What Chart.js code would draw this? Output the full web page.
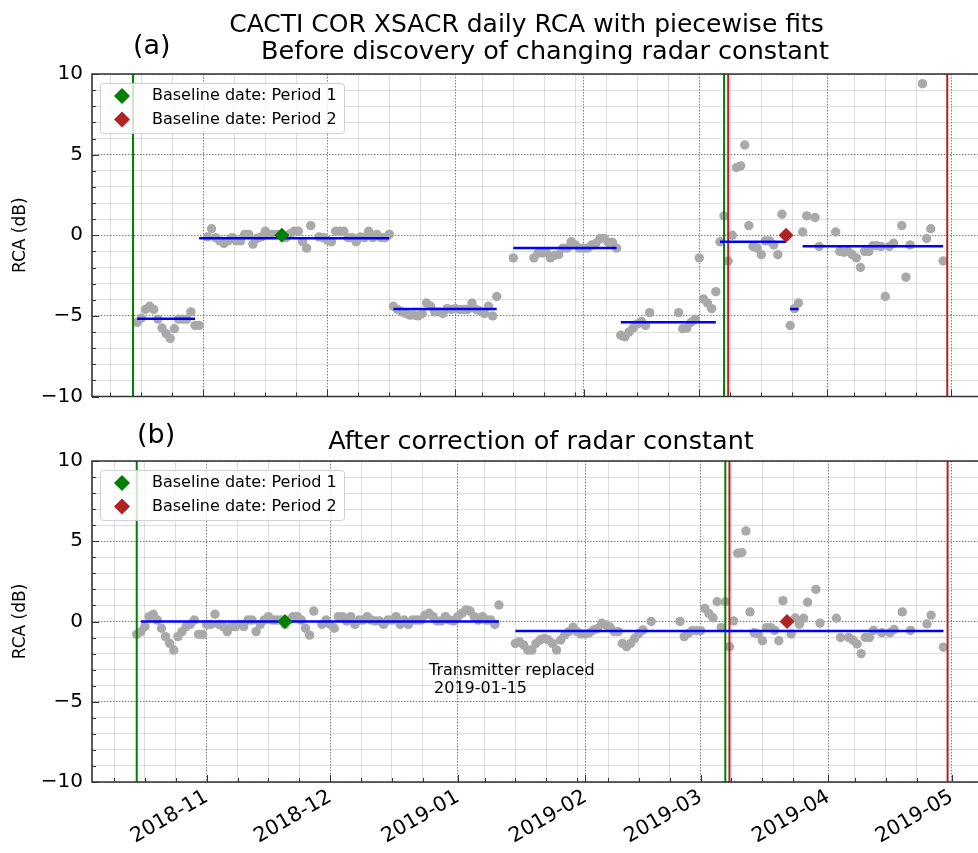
<!DOCTYPE html>
<html>
<head>
<meta charset="utf-8">
<title>CACTI COR XSACR daily RCA</title>
<script src="https://cdn.jsdelivr.net/npm/chart.js@4.4.0/dist/chart.umd.min.js"></script>
<style>
  html, body { margin: 0; padding: 0; background: #fff; }
  #wrap { position: relative; width: 978px; height: 853px; overflow: hidden; }
  #chartA { position: absolute; left: 0; top: 0; }
  #chartB { position: absolute; left: 0; top: 410px; }
</style>
</head>
<body>
<div id="wrap">
  <canvas id="chartA" width="978" height="410"></canvas>
  <canvas id="chartB" width="978" height="443"></canvas>
</div>
<script>
// ---- data ---------------------------------------------------------------
const monthLabels = ['2018-11', '2018-12', '2019-01', '2019-02', '2019-03', '2019-04', '2019-05'];

// (a) before discovery of changing radar constant
const datesA = [
  '2018-10-16','2018-10-17','2018-10-18','2018-10-19','2018-10-20','2018-10-21','2018-10-22','2018-10-23','2018-10-24','2018-10-25','2018-10-26','2018-10-27','2018-10-28','2018-10-29','2018-10-30','2018-10-31',
  '2018-11-02','2018-11-03','2018-11-04','2018-11-05','2018-11-06','2018-11-07','2018-11-08','2018-11-09','2018-11-10','2018-11-11','2018-11-12','2018-11-13','2018-11-14','2018-11-15','2018-11-16','2018-11-17','2018-11-18','2018-11-19','2018-11-20','2018-11-21','2018-11-22','2018-11-23','2018-11-24','2018-11-25','2018-11-26','2018-11-27','2018-11-29','2018-11-30',
  '2018-12-01','2018-12-02','2018-12-03','2018-12-04','2018-12-05','2018-12-06','2018-12-07','2018-12-08','2018-12-09','2018-12-10','2018-12-11','2018-12-12','2018-12-13','2018-12-14','2018-12-15','2018-12-16',
  '2018-12-17','2018-12-18','2018-12-19','2018-12-20','2018-12-21','2018-12-22','2018-12-23','2018-12-24','2018-12-25','2018-12-26','2018-12-27','2018-12-28','2018-12-29','2018-12-30','2018-12-31',
  '2019-01-01','2019-01-02','2019-01-03','2019-01-04','2019-01-05','2019-01-06','2019-01-07','2019-01-08','2019-01-09','2019-01-10','2019-01-11',
  '2019-01-15','2019-01-20','2019-01-21','2019-01-22','2019-01-23','2019-01-24','2019-01-25','2019-01-26','2019-01-27','2019-01-28','2019-01-29','2019-01-30','2019-01-31',
  '2019-02-01','2019-02-02','2019-02-03','2019-02-04','2019-02-05','2019-02-06','2019-02-07','2019-02-08','2019-02-09',
  '2019-02-10','2019-02-11','2019-02-12','2019-02-13','2019-02-14','2019-02-15','2019-02-16','2019-02-17',
  '2019-02-24','2019-02-25','2019-02-26','2019-02-27','2019-02-28',
  '2019-03-01','2019-03-02','2019-03-03','2019-03-04','2019-03-05','2019-03-06','2019-03-07','2019-03-08','2019-03-09','2019-03-10','2019-03-11','2019-03-12','2019-03-13','2019-03-14','2019-03-15','2019-03-16','2019-03-17','2019-03-18','2019-03-19','2019-03-20','2019-03-21','2019-03-22','2019-03-23','2019-03-24','2019-03-25','2019-03-26','2019-03-27','2019-03-29','2019-03-30',
  '2019-04-03','2019-04-04','2019-04-05','2019-04-06','2019-04-07','2019-04-08','2019-04-09','2019-04-10','2019-04-11','2019-04-12','2019-04-13','2019-04-14','2019-04-15','2019-04-16','2019-04-17',
  '2019-04-19','2019-04-20','2019-04-21','2019-04-24','2019-04-25','2019-04-26','2019-04-29'
];
const rcaA = [
  -5.4,-5.15,-4.6,-4.4,-4.6,-5.2,-5.75,-6.1,-6.4,-5.8,-5.2,-5.2,-5.2,-4.75,-5.6,-5.6,
  -0.1,0.4,-0.15,-0.35,-0.5,-0.35,-0.15,-0.35,-0.35,0.05,0.05,-0.55,-0.2,-0.1,0.25,0.05,0.05,0.05,0.05,-0.15,0.1,0.25,0.25,-0.4,-0.8,0.6,-0.1,-0.15,
  -0.3,-0.4,0.25,0.25,0.25,-0.15,-0.15,-0.4,-0.1,-0.15,0.25,-0.15,0.05,-0.15,-0.15,0.05,
  -4.4,-4.6,-4.75,-4.85,-4.95,-4.95,-5.0,-4.85,-4.2,-4.4,-4.75,-4.75,-4.85,-4.55,-4.6,
  -4.55,-4.6,-4.6,-4.6,-4.2,-4.6,-4.7,-4.85,-4.4,-5.0,-3.8,
  -1.4,-1.4,-1.1,-1.1,-1.05,-1.4,-1.25,-1.2,-0.8,-0.8,-0.4,-0.6,-0.8,
  -0.8,-0.8,-0.6,-0.5,-0.2,-0.2,-0.45,-0.45,-0.8,
  -6.2,-6.3,-6.0,-5.75,-5.5,-5.35,-5.6,-4.8,
  -4.8,-5.8,-5.75,-5.4,-5.2,
  -1.4,-3.95,-4.2,-4.55,-3.5,-0.4,1.2,-1.6,0.0,4.2,4.3,5.6,0.6,-0.7,-0.8,-1.2,-0.35,-0.35,-0.6,-1.2,1.3,0.0,-5.6,-4.55,-4.2,0.2,1.2,1.1,-0.7,
  0.2,-1.0,-1.05,-1.0,-1.2,-1.4,-2.0,-1.0,-1.0,-0.65,-0.65,-0.7,-3.8,-0.7,-0.5,
  0.6,-2.6,-0.6,9.4,-0.2,0.4,-1.6
];
const fitStartA = ['2018-10-16','2018-10-31','2018-12-17','2019-01-15','2019-02-10','2019-03-06','2019-03-23','2019-03-26'];
const fitEndA   = ['2018-10-30','2018-12-16','2019-01-11','2019-02-09','2019-03-05','2019-03-22','2019-03-25','2019-04-29'];
const fitRcaA   = [-5.18, -0.19, -4.58, -0.79, -5.4, -0.41, -4.58, -0.68];

// (b) after correction of radar constant
const datesB = [
  '2018-10-15','2018-10-16','2018-10-17','2018-10-18','2018-10-19','2018-10-20','2018-10-21','2018-10-22','2018-10-23','2018-10-24','2018-10-25','2018-10-26','2018-10-27','2018-10-28','2018-10-29','2018-10-30','2018-10-31',
  '2018-11-01','2018-11-02','2018-11-03','2018-11-04','2018-11-05','2018-11-06','2018-11-07','2018-11-08','2018-11-09','2018-11-10','2018-11-11','2018-11-12','2018-11-13','2018-11-14','2018-11-15','2018-11-16','2018-11-17','2018-11-18','2018-11-19','2018-11-20','2018-11-21','2018-11-22','2018-11-23','2018-11-24','2018-11-25','2018-11-26','2018-11-27','2018-11-29','2018-11-30',
  '2018-12-01','2018-12-02','2018-12-03','2018-12-04','2018-12-05','2018-12-06','2018-12-07','2018-12-08','2018-12-09','2018-12-10','2018-12-11','2018-12-12','2018-12-13','2018-12-14','2018-12-15','2018-12-16',
  '2018-12-17','2018-12-18','2018-12-19','2018-12-20','2018-12-21','2018-12-22','2018-12-23','2018-12-24','2018-12-25','2018-12-26','2018-12-27','2018-12-28','2018-12-29','2018-12-30','2018-12-31',
  '2019-01-01','2019-01-02','2019-01-03','2019-01-04','2019-01-05','2019-01-06','2019-01-07','2019-01-08','2019-01-09','2019-01-10','2019-01-11',
  '2019-01-15','2019-01-16','2019-01-17','2019-01-18','2019-01-19','2019-01-20','2019-01-21','2019-01-22','2019-01-23','2019-01-24','2019-01-25','2019-01-26','2019-01-27','2019-01-28','2019-01-29','2019-01-30','2019-01-31',
  '2019-02-01','2019-02-02','2019-02-03','2019-02-04','2019-02-05','2019-02-06','2019-02-07','2019-02-08','2019-02-09','2019-02-10','2019-02-11','2019-02-12','2019-02-13','2019-02-14','2019-02-15','2019-02-17',
  '2019-02-24','2019-02-25','2019-02-26','2019-02-27','2019-02-28',
  '2019-03-01','2019-03-02','2019-03-03','2019-03-04','2019-03-05','2019-03-06','2019-03-07','2019-03-08','2019-03-09','2019-03-10','2019-03-11','2019-03-12','2019-03-13','2019-03-14','2019-03-15','2019-03-16','2019-03-17','2019-03-18','2019-03-19','2019-03-20','2019-03-21','2019-03-22','2019-03-23','2019-03-24','2019-03-25','2019-03-26','2019-03-27','2019-03-29','2019-03-30',
  '2019-04-03','2019-04-04','2019-04-06','2019-04-07','2019-04-08','2019-04-09','2019-04-10','2019-04-11','2019-04-12','2019-04-14','2019-04-16','2019-04-17','2019-04-19','2019-04-21','2019-04-25','2019-04-26','2019-04-29'
];
const rcaB = [
  -0.8,-0.63,-0.32,0.3,0.45,0.09,-0.42,-0.94,-1.36,-1.78,-0.94,-0.63,-0.32,-0.18,0.09,-0.8,-0.8,
  -0.18,-0.18,0.45,-0.18,-0.32,-0.63,-0.32,-0.32,-0.18,-0.32,0.09,0.09,-0.63,-0.18,0.09,0.3,0.09,0.09,0.09,-0.18,0.09,0.3,0.3,0.09,-0.42,-0.85,0.65,-0.18,0.09,
  -0.18,-0.42,0.3,0.3,0.03,0.3,-0.18,0.09,0.09,0.3,0.09,0.03,0.03,-0.18,0.09,0.09,
  0.3,-0.18,0.09,-0.18,0.09,0.09,0.09,0.4,0.51,0.3,0.03,0.03,0.3,0.09,0.03,
  0.3,0.51,0.72,0.65,0.3,0.09,0.3,0.09,0.09,-0.18,1.03,
  -1.36,-1.26,-1.46,-1.78,-1.78,-1.36,-1.15,-1.05,-1.15,-1.36,-1.78,-1.15,-0.84,-0.63,-0.36,-0.63,-0.78,
  -0.78,-0.7,-0.53,-0.43,-0.11,-0.22,-0.36,-0.63,-0.63,-1.36,-1.57,-1.36,-1.05,-0.74,-0.53,0.0,
  0.0,-0.94,-0.74,-0.57,-0.57,
  -0.57,0.82,0.5,0.23,1.23,-0.38,1.23,-1.57,0.04,4.25,4.3,5.64,0.6,-0.7,-0.78,-1.2,-0.38,-0.38,-0.55,-1.2,1.3,0.0,-0.78,0.22,-0.17,0.2,1.2,2.0,-0.1,
  0.2,-1.0,-1.0,-1.15,-1.4,-2.0,-1.0,-1.0,-0.55,-0.7,-0.7,-0.5,0.6,-0.55,-0.15,0.4,-1.6
];
const fitStartB = ['2018-10-16', '2019-01-15'];
const fitEndB   = ['2019-01-11', '2019-04-29'];
const fitRcaB   = [0.0, -0.59];

// period boundaries and baseline dates (same in both panels)
const period1 = ['2018-10-15', '2019-03-07'];
const period2 = ['2019-03-08', '2019-04-30'];
const baseline1 = '2018-11-20';
const baseline2 = '2019-03-22';

const noteText = ['Transmitter replaced', ' 2019-01-15'];
const noteDate = '2018-12-25';
const noteRca = -3.07;

// ---- helpers ----------------------------------------------------------
const BASE = Date.parse('2018-11-01');
function day(s) { return (Date.parse(s) - BASE) / 86400000; }

function points(dates, vals) { return dates.map((d, i) => ({x: day(d), y: vals[i]})); }

function segments(starts, ends, vals) {
  const pts = [];
  starts.forEach((s, i) => {
    pts.push({x: day(s), y: vals[i]}, {x: day(ends[i]), y: vals[i]}, {x: day(ends[i]), y: null});
  });
  return pts;
}

function vlines(dates) {
  const pts = [];
  dates.forEach(d => pts.push({x: day(d), y: -10}, {x: day(d), y: 10}, {x: day(d), y: null}));
  return pts;
}

const majorDays = monthLabels.map(m => day(m + '-01'));

// month ticks plus evenly spaced minor ticks (a quarter of the first month)
function dateTicks(axis) {
  const step = (majorDays[1] - majorDays[0]) / 4;
  const ticks = majorDays.filter(v => v >= axis.min && v <= axis.max).map(v => ({value: v, major: true}));
  for (let v = majorDays[0] - step * 8; v <= axis.max; v += step) {
    if (v >= axis.min && !majorDays.some(m => Math.abs(m - v) < 1.5)) ticks.push({value: v, major: false});
  }
  ticks.sort((a, b) => a.value - b.value);
  axis.ticks = ticks;
}

function rcaTicks(axis) {
  const ticks = [];
  for (let v = -10; v <= 10; v++) ticks.push({value: v, major: v % 5 === 0});
  axis.ticks = ticks;
}

const gridColor = c => (c.tick && c.tick.major) ? 'rgba(0,0,0,0.5)' : 'rgba(0,0,0,0.13)';
const gridDash = c => (c.tick && c.tick.major) ? [1.5, 1.5] : [];

const FONT = 'DejaVu Sans';

// titles, legend box, inward ticks and frame
const decor = {
  id: 'decor',
  afterDatasetsDraw(chart, args, opts) {
    const {ctx, chartArea: area, scales: {x, y}} = chart;
    ctx.save();
    ctx.strokeStyle = '#333';
    ctx.lineWidth = 1;
    ctx.beginPath();
    x.ticks.forEach(t => {
      const px = Math.round(x.getPixelForValue(t.value)) + 0.5;
      ctx.moveTo(px, area.bottom);
      ctx.lineTo(px, area.bottom - (t.major ? 7 : 4));
    });
    y.ticks.forEach(t => {
      const py = Math.round(y.getPixelForValue(t.value)) + 0.5;
      ctx.moveTo(area.left, py);
      ctx.lineTo(area.left + (t.major ? 7 : 4), py);
    });
    ctx.stroke();

    ctx.lineWidth = 1.6;
    ctx.beginPath();
    ctx.moveTo(area.right + 2, area.top);
    ctx.lineTo(area.left, area.top);
    ctx.lineTo(area.left, area.bottom);
    ctx.lineTo(area.right + 2, area.bottom);
    ctx.stroke();

    // legend
    const lx = area.left + 8, ly = area.top + 9;
    ctx.fillStyle = 'rgba(255,255,255,0.8)';
    ctx.strokeStyle = 'rgba(204,204,204,0.9)';
    ctx.lineWidth = 1;
    ctx.beginPath();
    ctx.roundRect(lx + 0.5, ly + 0.5, 244, 50, 3);
    ctx.fill();
    ctx.stroke();
    ctx.font = '16px "' + FONT + '"';
    ctx.textAlign = 'left';
    ctx.textBaseline = 'middle';
    opts.legend.forEach((item, i) => {
      const cy = ly + 13 + i * 23.6;
      ctx.fillStyle = item.color;
      Chart.helpers.drawPoint(ctx, {pointStyle: 'rectRot', radius: 8, rotation: 0, borderWidth: 0}, lx + 22, cy);
      ctx.fillStyle = '#000';
      ctx.fillText(item.text, lx + 52, cy);
    });
    ctx.restore();
  },
  afterDraw(chart, args, opts) {
    const {ctx, scales: {x, y}} = chart;
    ctx.save();
    ctx.fillStyle = '#000';
    ctx.textBaseline = 'middle';
    opts.texts.forEach(t => {
      ctx.font = t.size + 'px "' + FONT + '"';
      ctx.textAlign = t.align;
      ctx.fillText(t.text, t.x, t.y);
    });
    if (opts.note) {
      ctx.font = '16px "' + FONT + '"';
      ctx.textAlign = 'left';
      const nx = x.getPixelForValue(day(opts.note.date));
      const ny = y.getPixelForValue(opts.note.rca);
      opts.note.lines.forEach((l, i) => ctx.fillText(l, nx, ny + i * 18));
    }
    ctx.restore();
  }
};

function makePanel(id, p) {
  return new Chart(document.getElementById(id), {
    type: 'scatter',
    data: {
      datasets: [
        { label: 'RCA', data: points(p.dates, p.rca), backgroundColor: '#a9a9a9', borderWidth: 0, pointRadius: 4.7, order: 5 },
        { type: 'line', label: 'Period 1', data: vlines(period1), borderColor: '#008000', borderWidth: 2, pointRadius: 0, spanGaps: false, order: 4 },
        { type: 'line', label: 'Period 2', data: vlines(period2), borderColor: '#b22222', borderWidth: 2, pointRadius: 0, spanGaps: false, order: 4 },
        { type: 'line', label: 'Fits', data: segments(p.fitStart, p.fitEnd, p.fitRca), borderColor: '#0000ff', borderWidth: 2.5, pointRadius: 0, spanGaps: false, order: 3 },
        { label: 'Baseline date: Period 1', data: [{x: day(baseline1), y: 0}], pointStyle: 'rectRot', pointRadius: 7.5, backgroundColor: '#008000', borderWidth: 0, order: 1 },
        { label: 'Baseline date: Period 2', data: [{x: day(baseline2), y: 0}], pointStyle: 'rectRot', pointRadius: 7.5, backgroundColor: '#b22222', borderWidth: 0, order: 1 }
      ]
    },
    options: {
      responsive: false,
      animation: false,
      events: [],
      layout: { padding: p.padding, autoPadding: false },
      plugins: {
        legend: { display: false },
        tooltip: { enabled: false },
        decor: {
          texts: p.texts,
          note: p.note,
          legend: [
            { color: '#008000', text: 'Baseline date: Period 1' },
            { color: '#b22222', text: 'Baseline date: Period 2' }
          ]
        }
      },
      scales: {
        x: {
          type: 'linear',
          min: p.xLim[0],
          max: p.xLim[1],
          afterBuildTicks: dateTicks,
          afterFit: s => { s.height = p.xHeight; s.paddingLeft = 0; s.paddingRight = 0; },
          grid: { color: gridColor, lineWidth: 1, drawTicks: false },
          border: { display: false, dash: gridDash },
          ticks: {
            display: p.showDates,
            autoSkip: false,
            minRotation: 30,
            maxRotation: 30,
            padding: 3,
            color: '#000',
            font: { family: FONT, size: 20.5 },
            callback: (v, i, ticks) => ticks[i].major ? monthLabels[majorDays.indexOf(v)] : ''
          }
        },
        y: {
          min: -10,
          max: 10,
          afterBuildTicks: rcaTicks,
          afterFit: s => { s.width = 92; s.paddingTop = 0; s.paddingBottom = 0; },
          grid: { color: gridColor, lineWidth: 1, drawTicks: false },
          border: { display: false, dash: gridDash },
          ticks: {
            autoSkip: false,
            padding: 9,
            color: '#000',
            font: { family: FONT, size: 20 },
            callback: (v, i, ticks) => ticks[i].major ? (v < 0 ? '\u2212' + Math.abs(v) : String(v)) : ''
          },
          title: { display: true, text: 'RCA (dB)', color: '#000', font: { family: FONT, size: 17 }, padding: { top: 10, bottom: 0 } }
        }
      }
    },
    plugins: [decor]
  });
}

makePanel('chartA', {
  dates: datesA, rca: rcaA,
  fitStart: fitStartA, fitEnd: fitEndA, fitRca: fitRcaA,
  xLim: [-26.93, 187.44],
  xHeight: 0,
  showDates: false,
  padding: { top: 74, bottom: 13.5, left: 0, right: 0 },
  texts: [
    { text: 'CACTI COR XSACR daily RCA with piecewise fits', x: 526.5, y: 25, size: 25, align: 'center' },
    { text: 'Before discovery of changing radar constant', x: 545, y: 52, size: 25.5, align: 'center' },
    { text: '(a)', x: 133, y: 47, size: 27, align: 'left' }
  ],
  note: null
});

makePanel('chartB', {
  dates: datesB, rca: rcaB,
  fitStart: fitStartB, fitEnd: fitEndB, fitRca: fitRcaB,
  xLim: [-27.87, 187.39],
  xHeight: 71,
  showDates: true,
  padding: { top: 51, bottom: 0, left: 0, right: 0 },
  texts: [
    { text: '(b)', x: 137, y: 26, size: 27, align: 'left' },
    { text: 'After correction of radar constant', x: 541, y: 32, size: 25.5, align: 'center' }
  ],
  note: { date: noteDate, rca: noteRca, lines: noteText }
});
</script>
</body>
</html>
